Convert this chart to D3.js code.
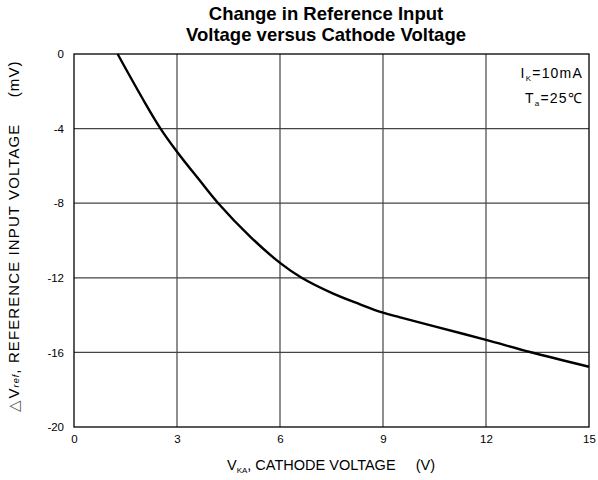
<!DOCTYPE html>
<html><head><meta charset="utf-8">
<script src="https://cdn.jsdelivr.net/npm/d3@7"></script>
<style>body{margin:0;background:#fff}svg{display:block}text{font-family:Arial,"Liberation Sans",sans-serif;white-space:pre}</style>
</head><body>
<script>
const vka = [1.27, 2, 2.52, 3, 3.67, 4.2, 5.13, 6, 6.63, 7.55, 8.33, 9, 9.5, 10.5, 12, 13.28, 15];
const dvref = [0, -2.4, -4, -5.24, -6.8, -8, -9.79, -11.2, -12, -12.85, -13.42, -13.87, -14.12, -14.6, -15.33, -15.98, -16.77];
const xTicks = [0, 3, 6, 9, 12, 15];
const yTicks = [0, -4, -8, -12, -16, -20];

const W = 598, H = 480;
const m = {l: 74, r: 9, t: 54, b: 53};
const svg = d3.select("body").append("svg").attr("width", W).attr("height", H);
const x = d3.scaleLinear().domain([0, 15]).range([m.l, W - m.r]);
const y = d3.scaleLinear().domain([-20, 0]).range([H - m.b, m.t]);

// grid
svg.append("g").selectAll("line").data(xTicks.slice(1, -1)).join("line")
  .attr("x1", d => x(d)).attr("x2", d => x(d)).attr("y1", y(0)).attr("y2", y(-20))
  .attr("stroke", "#444").attr("stroke-width", 1.2);
svg.append("g").selectAll("line").data(yTicks.slice(1, -1)).join("line")
  .attr("x1", x(0)).attr("x2", x(15)).attr("y1", d => y(d)).attr("y2", d => y(d))
  .attr("stroke", "#444").attr("stroke-width", 1.2);
svg.append("rect").attr("x", x(0)).attr("y", y(0)).attr("width", x(15) - x(0)).attr("height", y(-20) - y(0))
  .attr("fill", "none").attr("stroke", "#000").attr("stroke-width", 1.3);

// axes labels via d3 axes
const xa = svg.append("g").attr("transform", `translate(0,${y(-20)})`)
  .call(d3.axisBottom(x).tickValues(xTicks).tickSize(0).tickPadding(8));
const ya = svg.append("g").attr("transform", `translate(${x(0)},0)`)
  .call(d3.axisLeft(y).tickValues(yTicks).tickSize(0).tickPadding(10).tickFormat(d => String(d)));
[xa, ya].forEach(g => {
  g.select(".domain").remove();
  g.selectAll("text").attr("font-size", 11.5).attr("font-family", "Arial, 'Liberation Sans', sans-serif").attr("fill", "#000");
});

// curve
const data = vka.map((v, i) => [v, dvref[i]]);
svg.append("path").datum(data)
  .attr("d", d3.line().x(d => x(d[0])).y(d => y(d[1])).curve(d3.curveCatmullRom.alpha(0.5)))
  .attr("fill", "none").attr("stroke", "#000").attr("stroke-width", 2.4);

// title
const t = svg.append("text").attr("text-anchor", "middle").attr("font-weight", "bold").attr("font-size", 18.5);
t.append("tspan").attr("x", 326).attr("y", 20).text("Change in Reference Input");
t.append("tspan").attr("x", 326).attr("y", 41).text("Voltage versus Cathode Voltage");

// x title
const xt = svg.append("text").attr("x", 331).attr("y", 470).attr("text-anchor", "middle").attr("font-size", 14.5);
xt.append("tspan").text("V");
xt.append("tspan").attr("font-size", 8).attr("dy", 3).text("KA");
xt.append("tspan").attr("dy", -3).text(", CATHODE VOLTAGE     (V)");

// y title
const yt = svg.append("text").attr("transform", `translate(19,236) rotate(-90)`)
  .attr("text-anchor", "middle").attr("font-size", 15).attr("letter-spacing", 1.1);
yt.append("tspan").attr("fill", "#555").text("△");
yt.append("tspan").text("V");
yt.append("tspan").attr("font-size", 9).attr("font-style", "italic").text("ref");
yt.append("tspan").text(", REFERENCE INPUT VOLTAGE     (mV)");

// annotations
const a1 = svg.append("text").attr("x", 583).attr("y", 78).attr("text-anchor", "end").attr("font-size", 14).attr("letter-spacing", 1.2);
a1.append("tspan").text("I");
a1.append("tspan").attr("font-size", 8).attr("dy", 3).text("K");
a1.append("tspan").attr("dy", -3).text("=10mA");
const a2 = svg.append("text").attr("x", 583).attr("y", 103).attr("text-anchor", "end").attr("font-size", 14).attr("letter-spacing", 1.2);
a2.append("tspan").text("T");
a2.append("tspan").attr("font-size", 8).attr("dy", 3).text("a");
a2.append("tspan").attr("dy", -3).text("=25℃");
</script>
</body></html>
